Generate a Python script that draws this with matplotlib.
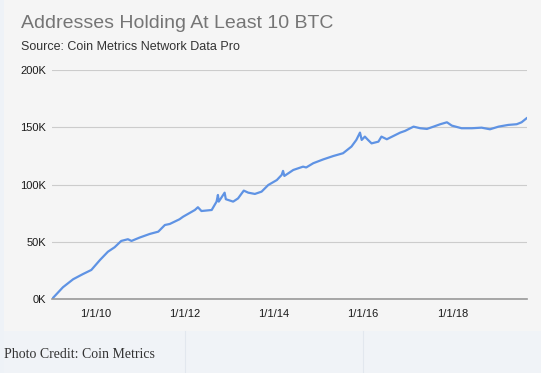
import numpy as np
import pandas as pd
import matplotlib
matplotlib.use('Agg')
import matplotlib.pyplot as plt
from matplotlib.patches import Rectangle
from matplotlib.lines import Line2D

# Données
dates = ['2009-01-03', '2009-04-05', '2009-06-28', '2009-09-16', '2009-11-24',
         '2010-02-03', '2010-04-09', '2010-06-03', '2010-07-27', '2010-09-20',
         '2010-10-19', '2010-12-24', '2011-03-18', '2011-05-27', '2011-07-20',
         '2011-08-29', '2011-11-17', '2011-12-16', '2012-03-22', '2012-04-16',
         '2012-05-15', '2012-08-07', '2012-09-16', '2012-09-27', '2012-10-04',
         '2012-11-21', '2012-12-01', '2013-01-30', '2013-03-11', '2013-04-27',
         '2013-06-03', '2013-07-27', '2013-09-20', '2013-11-14', '2014-01-23',
         '2014-03-04', '2014-03-15', '2014-03-26', '2014-06-07', '2014-08-26',
         '2014-09-21', '2014-11-18', '2015-02-07', '2015-05-02', '2015-07-20',
         '2015-09-27', '2015-11-06', '2015-12-06', '2015-12-20', '2016-01-15',
         '2016-02-10', '2016-03-10', '2016-05-05', '2016-05-30', '2016-07-13',
         '2016-09-06', '2016-10-31', '2016-12-10', '2017-02-17', '2017-04-13',
         '2017-06-07', '2017-07-31', '2017-09-24', '2017-11-18', '2017-12-28',
         '2018-03-18', '2018-06-10', '2018-08-29', '2018-11-06', '2019-01-15',
         '2019-04-05', '2019-06-13', '2019-07-23', '2019-09-02']
adresses = [0, 10.5, 17.5, 22, 25.6,
            34.3, 41.5, 45.4, 50.9, 52.4,
            50.9, 53.8, 57, 59, 64.8,
            65.7, 69.8, 72, 77.9, 80.3,
            77, 77.9, 85.2, 91, 85.2,
            93, 87.3, 85.2, 88, 94.8,
            93, 91.9, 93.9, 99.7, 104,
            108.5, 112, 107.6, 112.8, 115.7,
            115, 118.7, 122, 125, 127.4,
            133.2, 139, 145.4, 139, 141.9,
            139, 136, 137.5, 141.9, 139.6,
            142.5, 145.4, 146.9, 150.6, 149.2,
            148.6, 150.6, 152.7, 154.4, 151.5,
            149.2, 149.2, 149.7, 148.3, 150.6,
            152.1, 152.7, 154.4, 157.9]

y_ticks = [0, 50000, 100000, 150000, 200000]
y_labels = ['0K', '50K', '100K', '150K', '200K']
x_ticks = ['2010-01-01', '2012-01-01', '2014-01-01', '2016-01-01', '2018-01-01']
x_labels = ['1/1/10', '1/1/12', '1/1/14', '1/1/16', '1/1/18']

t = pd.to_datetime(dates)
v = np.array(adresses) * 1000

plt.rcParams['font.family'] = ['Liberation Sans', 'DejaVu Sans']

fig = plt.figure(figsize=(5.41, 3.73), dpi=100)
fig.patch.set_facecolor('#f5f5f5')

# bande du bas (crédit photo) et liseré à gauche
fig.patches.append(Rectangle((0, 0), 1, 42 / 373, transform=fig.transFigure,
                             facecolor='#f0f3f7', edgecolor='none', zorder=0))
fig.patches.append(Rectangle((0, 0), 4 / 541, 1, transform=fig.transFigure,
                             facecolor='#eef2f7', edgecolor='none', zorder=0))
for xd in [185 / 541, 363 / 541]:
    fig.lines.append(Line2D([xd, xd], [0, 42 / 373], transform=fig.transFigure,
                            color='#e2e7ee', lw=0.8))

ax = fig.add_axes([51.7 / 541, 1 - 299.3 / 373, (527.3 - 51.7) / 541, (299.3 - 70) / 373])
ax.set_facecolor('#f5f5f5')

ax.plot(t, v, color='#5f93e4', lw=1.6, solid_joinstyle='round')

ax.set_ylim(0, 200000)
ax.set_xlim(pd.Timestamp('2009-01-03'), pd.Timestamp('2019-09-08'))
ax.set_yticks(y_ticks)
ax.set_yticklabels(y_labels)
ax.set_xticks(pd.to_datetime(x_ticks))
ax.set_xticklabels(x_labels)
ax.tick_params(length=0, labelsize=8, colors='#1a1a1a')
ax.tick_params(axis='y', pad=4)
ax.tick_params(axis='x', pad=7)

ax.grid(axis='y', color='#cccccc', lw=0.8)
ax.set_axisbelow(True)
for s in ['top', 'right', 'left']:
    ax.spines[s].set_visible(False)
ax.spines['bottom'].set_color('#999999')
ax.spines['bottom'].set_linewidth(1.2)

fig.text(21 / 541, 1 - 24 / 373, 'Addresses Holding At Least 10 BTC',
         fontsize=14, color='#757575', va='center')
fig.text(21 / 541, 1 - 47 / 373, 'Source: Coin Metrics Network Data Pro',
         fontsize=9, color='#333333', va='center')
fig.text(4 / 541, 1 - 354 / 373, 'Photo Credit: Coin Metrics',
         fontsize=10, color='#333333', va='center', family=['Liberation Serif'])

plt.savefig('out.png', dpi=100, facecolor=fig.get_facecolor())
